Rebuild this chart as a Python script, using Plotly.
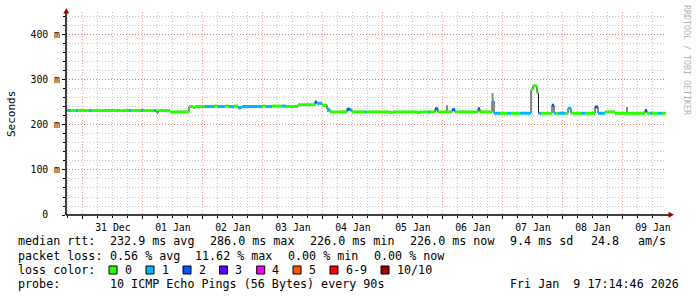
import plotly.graph_objects as go
import pandas as pd

# ---------------- data ----------------
start = pd.Timestamp("2025-12-30 17:14:46")
end = pd.Timestamp("2026-01-09 17:14:46")

# change points of the median rtt: hours since start, rtt in ms, lost pings (of 10)
seg_hours = [0.0, 0.8, 1.6, 4.0, 4.8, 9.2, 10.0, 25.2, 26.0, 30.0, 30.8, 35.2, 36.0, 36.4, 36.8,
             41.6, 49.2, 50.8, 51.6, 55.6, 59.2, 60.8, 63.6, 65.2, 67.2, 68.8, 70.4, 78.4, 80.0,
             82.4, 86.4, 88.0, 92.8, 99.6, 100.4, 102.4, 104.4, 105.6, 112.4, 113.6, 114.4,
             119.6, 120.4, 129.6, 130.8, 140.4, 141.6, 144.8, 145.6, 147.6, 148.8, 154.4, 155.6,
             164.8, 165.6, 170.4, 171.2, 173.6, 176.8, 178.0, 181.6, 186.0, 186.8, 188.4, 189.0,
             190.0, 194.4, 195.2, 196.0, 196.8, 199.6, 200.8, 202.0, 206.0, 207.6, 211.6, 212.8,
             215.6, 219.6, 231.6, 232.4, 233.6, 234.4, 236.8, 238.4]
seg_rtt = [232, 232, 232, 232, 232, 232, 232, 232, 232, 232, 232, 232, 232, 226, 232,
           229, 241, 239, 241, 241, 242, 241, 242, 241, 242, 238, 241, 242, 241,
           242, 242, 241, 245, 251, 248, 244, 235, 229, 235, 234, 229,
           229, 229, 228, 229, 228, 229, 229, 229, 236, 229, 234, 229,
           236, 229, 253, 226, 226, 226, 226, 226, 279, 287, 271, 226,
           226, 244, 226, 226, 226, 226, 237, 226, 226, 226, 240, 226,
           229, 226, 232, 226, 226, 226, 226, 226]
seg_loss = [0, 1, 0, 1, 0, 1, 0, 1, 0, 1, 0, 1, 0, 0, 0,
            0, 0, 0, 0, 1, 0, 1, 0, 1, 0, 1, 1, 0, 1,
            0, 1, 0, 0, 2, 1, 0, 1, 0, 2, 1, 0,
            1, 0, 0, 0, 0, 0, 1, 0, 2, 0, 2, 0,
            2, 0, 1, 1, 0, 1, 0, 1, 0, 0, 0, 1,
            0, 2, 1, 0, 1, 0, 1, 0, 1, 0, 2, 1,
            0, 0, 2, 0, 1, 0, 1, 0]

# smoke (spread of the individual pings) where it is visible
smoke_hours = [99.8, 104.8, 112.6, 152.4, 170.6, 224.4]
smoke_lo = [248, 229, 232, 229, 254, 226]
smoke_hi = [253, 236, 238, 244, 271, 240]

loss_labels = ["0", "1", "2", "3", "4", "5", "6-9", "10/10"]
loss_colors = ["#26ff00", "#00b8ff", "#0059ff", "#5e00ff", "#ff00ff", "#ff5500", "#ff0000", "#a00000"]

y_tick_vals = [0, 100, 200, 300, 400]
y_tick_text = ["0\u00a0\u00a0", "100 m", "200 m", "300 m", "400 m"]

rtt_labels = ["median rtt:", "232.9 ms avg", "286.0 ms max", "226.0 ms min", "226.0 ms now",
              "9.4 ms sd", "24.8", "am/s"]
loss_stat_labels = ["packet loss:", "0.56 % avg", "11.62 % max", "0.00 % min", "0.00 % now"]
probe_text = "10 ICMP Echo Pings (56 Bytes) every 90s"
date_text = "Fri Jan  9 17:14:46 2026"

# ---------------- geometry helpers ----------------
W, H = 697, 297
L, R, T, B = 66, 31, 12, 82
PW, PH = W - L - R, H - T - B


def px(x, y):
    return (x - L) / PW, (T + PH - y) / PH


def tt(h):
    return start + pd.Timedelta(hours=h)


def level(n):
    if n <= 5:
        return n
    if n < 10:
        return 6
    return 7


MONO = "DejaVu Sans Mono"
fig = go.Figure()

# smoke
sx, sy = [], []
for h, lo, hi in zip(smoke_hours, smoke_lo, smoke_hi):
    sx += [tt(h), tt(h), None]
    sy += [lo, hi, None]
fig.add_trace(go.Scatter(x=sx, y=sy, mode="lines", line=dict(color="#8a8a8a", width=2),
                         hoverinfo="skip"))

# thin median line (step)
mx = [tt(h) for h in seg_hours] + [end]
my = list(seg_rtt) + [seg_rtt[-1]]
fig.add_trace(go.Scatter(x=mx, y=my, mode="lines", line=dict(color="#141414", width=1, shape="hv"),
                         hoverinfo="skip"))

# loss-coloured median band
ends = seg_hours[1:] + [240.0]
for k, col in enumerate(loss_colors):
    bx, by = [], []
    for h0, h1, v, n in zip(seg_hours, ends, seg_rtt, seg_loss):
        if level(n) == k:
            bx += [tt(h0), tt(h1), None]
            by += [v, v, None]
    if bx:
        fig.add_trace(go.Scatter(x=bx, y=by, mode="lines", line=dict(color=col, width=3),
                                 hoverinfo="skip"))

dot = "1px,2px"
fig.update_xaxes(
    type="date", range=[start, end], tickformat="%d %b", dtick=86400000,
    tick0="2025-12-31 00:00:00", ticklabelmode="period",
    showgrid=True, gridcolor="rgba(255,60,60,0.55)", griddash=dot, gridwidth=1,
    zeroline=False, showline=False, ticks="outside", ticklen=3, tickcolor="#000",
    tickfont=dict(family=MONO, size=9.8, color="#000"),
    minor=dict(dtick=6 * 3600000, tick0="2025-12-31 00:00:00", showgrid=True,
               gridcolor="#c4c4c4", griddash=dot, ticks="outside", ticklen=2, tickcolor="#000"),
)
fig.update_yaxes(
    range=[0, 451], tickvals=y_tick_vals, ticktext=y_tick_text,
    showgrid=True, gridcolor="rgba(255,60,60,0.55)", griddash=dot, gridwidth=1,
    zeroline=False, showline=False, ticks="outside", ticklen=3, tickcolor="#000",
    tickfont=dict(family=MONO, size=9.8, color="#000"),
    minor=dict(dtick=20, tick0=0, showgrid=True, gridcolor="#c4c4c4", griddash=dot,
               ticks="outside", ticklen=2, tickcolor="#000"),
)

shapes = []
# axes with arrows
x0, y0 = px(66, 215)
x1, _ = px(670, 215)
_, y1 = px(66, 11)
shapes.append(dict(type="line", xref="paper", yref="paper", x0=x0, y0=y0, x1=x1, y1=y0,
                   line=dict(color="#000", width=1.5)))
shapes.append(dict(type="line", xref="paper", yref="paper", x0=x0, y0=y0, x1=x0, y1=y1,
                   line=dict(color="#000", width=1.5)))


def tri(pts):
    s = ""
    for i, (a, b) in enumerate(pts):
        u, v = px(a, b)
        s += ("M" if i == 0 else "L") + f"{u:.5f},{v:.5f} "
    return s + "Z"


shapes.append(dict(type="path", xref="paper", yref="paper",
                   path=tri([(63.3, 13.5), (69.3, 13.5), (66.3, 8.3)]),
                   fillcolor="#a00000", line=dict(width=0)))
shapes.append(dict(type="path", xref="paper", yref="paper",
                   path=tri([(668.5, 211.8), (668.5, 217.8), (674, 214.8)]),
                   fillcolor="#a00000", line=dict(width=0)))

annotations = []


def text(s, x, y, size=11.7, anchor="left", color="#000", angle=0):
    u, v = px(x, y)
    annotations.append(dict(text=s.replace(" ", "\u00a0"), x=u, y=v, xref="paper", yref="paper",
                            xanchor=anchor, yanchor="middle", showarrow=False, textangle=angle,
                            font=dict(family=MONO, size=size, color=color)))


# y axis title and watermark
text("Seconds", 11, 114, size=11, anchor="center", angle=-90)
text("RRDTOOL / TOBI OETIKER", 687, 60, size=8.3, anchor="center", color="#b4b4b4", angle=90)

# legend block
rtt_x = [16, 108, 207.6, 307.6, 407.6, 508, 589, 635.5]
for s, x in zip(rtt_labels, rtt_x):
    text(s, x, 241)
loss_x = [16, 108, 193.3, 285.8, 372]
for s, x in zip(loss_stat_labels, loss_x):
    text(s, x, 255.5)
text("loss color:", 16, 269.5)
box_x = [109, 146, 183, 219.5, 256.7, 293, 330, 381]
for lab, col, bxl in zip(loss_labels, loss_colors, box_x):
    u0, v0 = px(bxl, 274)
    u1, v1 = px(bxl + 8, 266)
    shapes.append(dict(type="rect", xref="paper", yref="paper", x0=u0, y0=v0, x1=u1, y1=v1,
                       fillcolor=col, line=dict(color="#000", width=1)))
    text(lab, bxl + 13.5, 269.5)
text("probe:", 16, 284)
text(probe_text, 108, 284)
text(date_text, 680.5, 284, anchor="right")

fig.update_layout(
    width=W, height=H, margin=dict(l=L, r=R, t=T, b=B, pad=0),
    paper_bgcolor="#fff", plot_bgcolor="#fff", showlegend=False,
    shapes=shapes, annotations=annotations,
)

fig.write_html("out.html")
